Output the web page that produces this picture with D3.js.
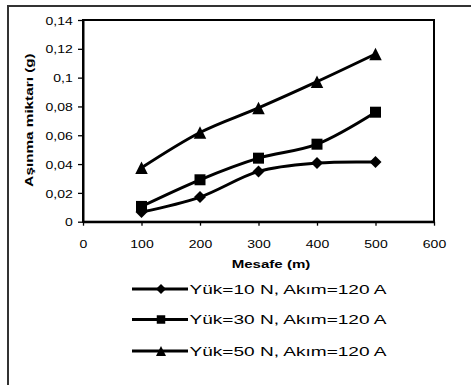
<!DOCTYPE html>
<html>
<head>
<meta charset="utf-8">
<script src="https://cdn.jsdelivr.net/npm/d3@7/dist/d3.min.js"></script>
<style>
  html, body { margin: 0; padding: 0; background: #fff; }
  svg { display: block; }
  text { font-family: Arial, "Liberation Sans", sans-serif; fill: #000; }
</style>
</head>
<body>
<svg id="chart" width="471" height="385"></svg>
<script>
// Distance (m)
const distances = [100, 200, 300, 400, 500];
// Wear amount (g) per load
const wear10N = [0.0067, 0.0171, 0.0349, 0.0407, 0.0414];
const wear30N = [0.0106, 0.0291, 0.0441, 0.0538, 0.0760];
const wear50N = [0.0374, 0.0619, 0.0790, 0.0972, 0.1164];
const seriesNames = ["Yük=10 N,  Akım=120 A", "Yük=30 N,  Akım=120 A", "Yük=50 N,  Akım=120 A"];
const seriesMarkers = ["diamond", "square", "triangle"];
const xTicks = [0, 100, 200, 300, 400, 500, 600];
const yTicks = [0, 0.02, 0.04, 0.06, 0.08, 0.1, 0.12, 0.14];
const xTitle = "Mesafe (m)";
const yTitle = "Aşınma miktarı (g)";

const series = [wear10N, wear30N, wear50N].map((vals, i) => ({
  name: seriesNames[i],
  marker: seriesMarkers[i],
  points: distances.map((d, j) => ({ x: d, y: vals[j] }))
}));

const svg = d3.select("#chart");
const W = 471, H = 385;
const plot = { left: 83, right: 434, top: 20, bottom: 221.7 };
const stretch = 1.36; // wide glyph rendering

// outer chart frame (runs off the right/bottom edges)
svg.append("rect")
  .attr("x", 8).attr("y", 6)
  .attr("width", W).attr("height", H)
  .attr("fill", "#fff")
  .attr("stroke", "#333").attr("stroke-width", 2);

const x = d3.scaleLinear().domain([0, 600]).range([plot.left, plot.right]);
const y = d3.scaleLinear().domain([0, 0.14]).range([plot.bottom, plot.top]);

const fmt = v => (v === 0 ? "0" : d3.format(".2~f")(v).replace(".", ","));

// plot area border
svg.append("rect")
  .attr("x", plot.left).attr("y", plot.top)
  .attr("width", plot.right - plot.left).attr("height", plot.bottom - plot.top)
  .attr("fill", "none").attr("stroke", "#000").attr("stroke-width", 2);

// y axis
const gy = svg.append("g")
  .attr("transform", `translate(${plot.left},0)`)
  .call(d3.axisLeft(y).tickValues(yTicks).tickFormat(fmt).tickSize(5).tickSizeOuter(0));
gy.select(".domain").attr("stroke", "#000").attr("stroke-width", 2);
gy.selectAll(".tick line").attr("stroke", "#000").attr("stroke-width", 1.3);
gy.selectAll(".tick text")
  .attr("x", -10.3 / stretch)
  .attr("dy", "0.4em")
  .attr("transform", `scale(${stretch},1)`)
  .style("font-size", "10.3px")
  .style("font-family", "Arial, 'Liberation Sans', sans-serif")
  .attr("fill", "#000");

// x axis
const gx = svg.append("g")
  .attr("transform", `translate(0,${plot.bottom})`)
  .call(d3.axisBottom(x).tickValues(xTicks).tickFormat(d3.format("d")).tickSize(4).tickSizeOuter(0));
gx.select(".domain").attr("stroke", "#000").attr("stroke-width", 2);
gx.selectAll(".tick line").attr("stroke", "#000").attr("stroke-width", 1.3);
gx.selectAll(".tick text")
  .attr("y", 19)
  .attr("dy", "0.71em")
  .attr("transform", `scale(${stretch},1)`)
  .style("font-size", "10.3px")
  .style("font-family", "Arial, 'Liberation Sans', sans-serif")
  .attr("fill", "#000");

// axis titles
svg.append("text")
  .attr("transform", `translate(271,268) scale(1.31,1)`)
  .attr("text-anchor", "middle")
  .style("font-size", "11.5px").style("font-weight", "bold")
  .text(xTitle);

svg.append("text")
  .attr("transform", `translate(33,120) rotate(-90) scale(1.33,1)`)
  .attr("text-anchor", "middle")
  .style("font-size", "11.5px").style("font-weight", "bold")
  .text(yTitle);

// marker shapes centred on their bounding box
function markerPath(type, s) {
  const h = s / 2;
  if (type === "diamond") return `M0,${-h}L${h},0L0,${h}L${-h},0Z`;
  if (type === "square") return `M${-h},${-h}H${h}V${h}H${-h}Z`;
  return `M0,${-h}L${h},${h}L${-h},${h}Z`;
}
const markerSize = { diamond: 12, square: 11, triangle: 12.5 };
const legendMarkerSize = { diamond: 10, square: 8.5, triangle: 10 };

const line = d3.line()
  .x(d => x(d.x)).y(d => y(d.y))
  .curve(d3.curveCatmullRom.alpha(0));

const gs = svg.append("g");
series.forEach(s => {
  gs.append("path")
    .attr("d", line(s.points))
    .attr("fill", "none").attr("stroke", "#000")
    .attr("stroke-width", 3).attr("stroke-linejoin", "round");
  gs.selectAll(null).data(s.points).enter().append("path")
    .attr("transform", d => `translate(${x(d.x)},${y(d.y)})`)
    .attr("d", markerPath(s.marker, markerSize[s.marker]))
    .attr("fill", "#000");
});

// legend
const legendY = [289, 319.5, 351];
const leg = svg.append("g");
series.forEach((s, i) => {
  const g = leg.append("g").attr("transform", `translate(0,${legendY[i]})`);
  g.append("line")
    .attr("x1", 132).attr("x2", 188).attr("y1", 0).attr("y2", 0)
    .attr("stroke", "#000").attr("stroke-width", 3);
  g.append("path")
    .attr("transform", "translate(161,0)")
    .attr("d", markerPath(s.marker, legendMarkerSize[s.marker]))
    .attr("fill", "#000");
  g.append("text")
    .attr("x", 189.5).attr("y", 4.6)
    .attr("textLength", 197).attr("lengthAdjust", "spacingAndGlyphs")
    .style("font-size", "12.6px")
    .text(s.name);
});
</script>
</body>
</html>
